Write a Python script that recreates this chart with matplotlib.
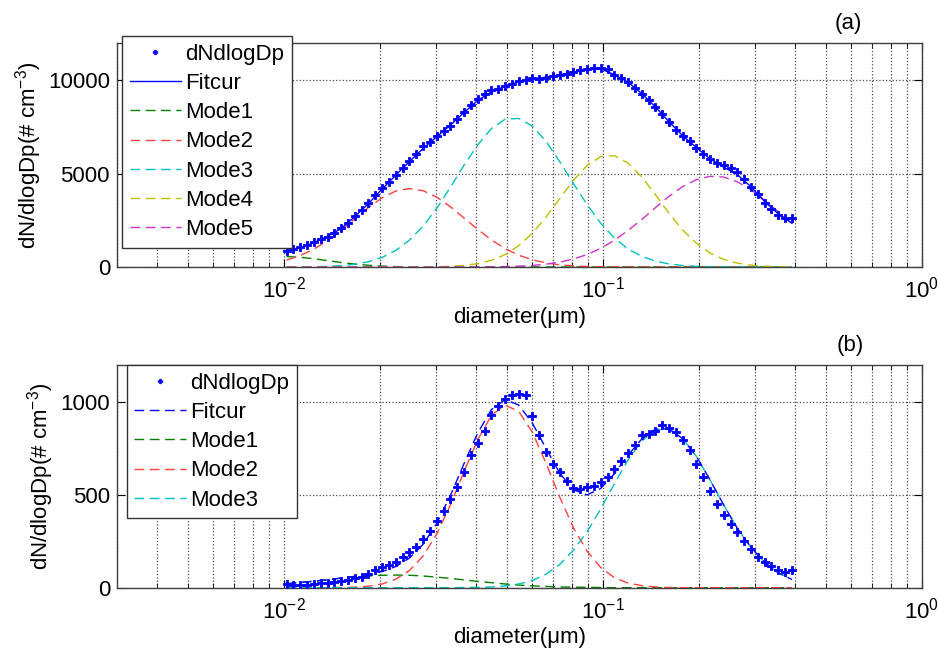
import numpy as np
import matplotlib
matplotlib.use('Agg')
import matplotlib.pyplot as plt

plt.rcParams['font.family'] = ['Liberation Sans', 'DejaVu Sans']
plt.rcParams['mathtext.fontset'] = 'custom'
plt.rcParams['mathtext.rm'] = 'Liberation Sans'
plt.rcParams['mathtext.it'] = 'Liberation Sans:italic'
plt.rcParams['font.size'] = 16

# canais do SMPS (diametro em um) e grade das curvas ajustadas
diametro = np.logspace(np.log10(0.0102), np.log10(0.392), 75)
d_curva = diametro[::2]

# painel (a)
dN_a = [860, 950, 1050, 1180, 1360, 1500, 1620, 1840, 2070, 2380,
        2730, 3050, 3410, 3850, 4210, 4570, 4920, 5330, 5690, 6050,
        6470, 6700, 7000, 7310, 7560, 7950, 8310, 8670, 8990, 9290,
        9470, 9560, 9700, 9830, 9950, 10040, 10130, 10090, 10150, 10240,
        10310, 10360, 10450, 10540, 10590, 10660, 10660, 10590, 10270, 10130,
        9910, 9610, 9290, 8970, 8580, 8220, 7780, 7330, 7010, 6740,
        6400, 6080, 5760, 5580, 5460, 5280, 5100, 4740, 4300, 3890,
        3410, 3100, 2780, 2600, 2600]
fit_a = [870, 1040, 1300, 1640, 2060, 2700, 3400, 4180, 4920, 5650,
         6350, 6980, 7600, 8280, 8930, 9380, 9680, 9930, 10080, 10170,
         10300, 10440, 10580, 10620, 10300, 9900, 9290, 8580, 7780, 7030,
         6400, 5800, 5350, 4950, 4300, 3500, 2850, 2340]
mode1_a = [560, 520, 442, 342, 240, 154, 91, 48, 23, 10,
           4, 2, 1, 0, 0, 0, 0, 0, 0, 0,
           0, 0, 0, 0, 0, 0, 0, 0, 0, 0,
           0, 0, 0, 0, 0, 0, 0, 0]
mode2_a = [369, 615, 957, 1416, 1974, 2591, 3187, 3712, 4070, 4200,
           4087, 3743, 3227, 2620, 2016, 1452, 985, 629, 383, 217,
           116, 58, 27, 12, 5, 2, 1, 0, 0, 0,
           0, 0, 0, 0, 0, 0, 0, 0]
mode3_a = [2, 6, 14, 32, 71, 146, 281, 515, 888, 1442,
           2186, 3147, 4274, 5461, 6543, 7418, 7919, 7958, 7543, 6727,
           5648, 4465, 3348, 2348, 1552, 964, 572, 315, 164, 80,
           37, 16, 7, 3, 1, 0, 0, 0]
mode4_a = [0, 0, 0, 0, 0, 0, 0, 0, 0, 0,
           5, 14, 36, 84, 178, 358, 666, 1146, 1810, 2675,
           3662, 4643, 5434, 5916, 5964, 5567, 4830, 3875, 2874, 1977,
           1272, 751, 410, 208, 99, 43, 17, 7]
mode5_a = [0, 0, 0, 0, 0, 0, 0, 0, 0, 0,
           0, 0, 1, 2, 5, 11, 23, 45, 84, 151,
           260, 429, 666, 999, 1431, 1958, 2542, 3175, 3785, 4308,
           4676, 4858, 4819, 4565, 4140, 3579, 2954, 2328]

# painel (b)
dN_b = [20, 17, 17, 17, 20, 23, 27, 30, 34, 41,
        50, 59, 73, 95, 112, 122, 139, 166, 193, 219,
        264, 305, 360, 412, 478, 540, 626, 715, 781, 847,
        933, 977, 1019, 1040, 1043, 1036, 924, 822, 733, 669,
        626, 576, 537, 532, 540, 549, 567, 594, 639, 683,
        724, 769, 821, 826, 847, 876, 861, 838, 794, 741,
        666, 594, 523, 452, 394, 345, 300, 251, 206, 166,
        139, 116, 98, 86, 95]
fit_b = [21, 28, 35, 43, 52, 61, 71, 87, 114, 160,
         234, 347, 497, 670, 834, 960, 1014, 984, 886, 750,
         617, 528, 500, 535, 614, 714, 801, 854, 856, 803,
         708, 581, 446, 320, 217, 136, 80, 44]
mode1_b = [21, 28, 35, 43, 51, 58, 63, 67, 68, 67,
           63, 57, 50, 42, 34, 27, 20, 14, 10, 7,
           4, 3, 2, 1, 0, 0, 0, 0, 0, 0,
           0, 0, 0, 0, 0, 0, 0, 0]
mode2_b = [0, 0, 0, 0, 1, 3, 8, 20, 46, 93,
           171, 290, 447, 627, 798, 929, 984, 950, 837, 670,
           488, 323, 197, 109, 54, 25, 11, 4, 1, 0,
           0, 0, 0, 0, 0, 0, 0, 0]
mode3_b = [0, 0, 0, 0, 0, 0, 0, 0, 0, 0,
           0, 0, 0, 1, 2, 4, 10, 20, 39, 73,
           125, 202, 301, 425, 560, 689, 790, 850, 855, 803,
           708, 581, 446, 320, 217, 136, 80, 44]

cores = {'Mode1': (0, 0.5, 0), 'Mode2': (1, 0.25, 0.25), 'Mode3': (0, 0.75, 0.75),
         'Mode4': (0.75, 0.75, 0), 'Mode5': (0.8, 0.2, 0.8)}
tracos = (7, 4)

fig = plt.figure(figsize=(9.39, 6.5), dpi=100)
ax1 = fig.add_axes([117/939, 1-267/650, 804.7/939, 224/650])
ax2 = fig.add_axes([117/939, 1-587.7/650, 804.7/939, 222.7/650])


def desenha(ax, dN, fit, modos, fit_tracejado):
    ax.plot(diametro, dN, linestyle='none', marker='P', color='b',
            markersize=5.5, markeredgewidth=0.6, label='dNdlogDp', zorder=5)
    if fit_tracejado:
        ax.plot(d_curva, fit, color='b', lw=1, dashes=tracos, label='Fitcur', zorder=4)
    else:
        ax.plot(d_curva, fit, color='b', lw=1, label='Fitcur', zorder=4)
    for nome, valores in modos:
        ax.plot(d_curva, valores, color=cores[nome], lw=1, dashes=tracos, label=nome)
    ax.set_xscale('log')
    ax.set_xlim(0.003, 1)
    ax.grid(True, which='both', axis='x', linestyle=':', color='0.3', lw=0.9)
    ax.grid(True, which='major', axis='y', linestyle=':', color='0.3', lw=0.9)
    ax.tick_params(which='both', direction='in', top=True, right=True)
    ax.tick_params(which='major', length=6)
    ax.tick_params(axis='x', which='major', pad=7)
    ax.tick_params(axis='y', which='major', pad=5)
    ax.tick_params(which='minor', length=3.5)
    ax.tick_params(axis='y', which='minor', left=False, right=False)
    for s in ax.spines.values():
        s.set_color('0.25')
        s.set_linewidth(1)
    ax.set_xlabel('diameter(\u03bcm)', labelpad=3)
    ax.set_ylabel('dN/dlogDp(# cm$^{-3}$)', labelpad=3)


desenha(ax1, dN_a, fit_a, [('Mode1', mode1_a), ('Mode2', mode2_a), ('Mode3', mode3_a),
                           ('Mode4', mode4_a), ('Mode5', mode5_a)], False)
ax1.set_ylim(0, 12000)
ax1.set_yticks([0, 5000, 10000])

desenha(ax2, dN_b, fit_b, [('Mode1', mode1_b), ('Mode2', mode2_b), ('Mode3', mode3_b)], True)
ax2.set_ylim(0, 1200)
ax2.set_yticks([0, 500, 1000])

for ax, pos in [(ax1, (122/939, 1-36/650)), (ax2, (126.7/939, 1-365/650))]:
    leg = ax.legend(loc='upper left', bbox_to_anchor=pos, bbox_transform=fig.transFigure,
                    numpoints=1, markerscale=0.6, handlelength=2.3, handletextpad=0.2,
                    labelspacing=0.37, borderpad=0.35, borderaxespad=0, fancybox=False,
                    framealpha=1, edgecolor='0.2')
    leg.get_frame().set_linewidth(1)
    leg.set_zorder(10)

fig.text(848/939, 1-23/650, '(a)', ha='center', va='center')
fig.text(850/939, 1-345/650, '(b)', ha='center', va='center')

fig.savefig('out.png', dpi=100)
